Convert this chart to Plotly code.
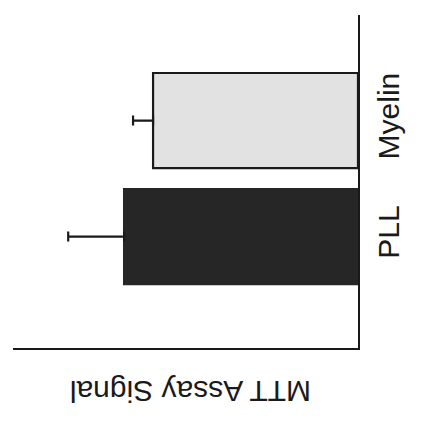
import plotly.graph_objects as go

# MTT assay results per substrate
categories = ["PLL", "Myelin"]
signal = [1.017, 0.891]
signal_err = [0.243, 0.087]
fill_colors = ["#262626", "#e2e2e2"]
outline_colors = ["#262626", "#1a1a1a"]
axis_title = "MTT Assay Signal"

fig = go.Figure()
fig.add_trace(go.Bar(
    y=categories,
    x=signal,
    orientation="h",
    width=0.82,
    marker=dict(color=fill_colors, line=dict(color=outline_colors, width=2.2)),
    error_x=dict(type="data", symmetric=False, array=signal_err,
                 arrayminus=[0, 0], color="#1a1a1a", thickness=2.2, width=5),
    showlegend=False,
))

fig.update_layout(
    width=422, height=429,
    margin=dict(l=13, r=64, t=15, b=81),
    paper_bgcolor="white", plot_bgcolor="white",
    font=dict(family="Liberation Sans, Arial, sans-serif", color="#1a1a1a"),
    xaxis=dict(range=[1.5, 0], showgrid=False, zeroline=False,
               showticklabels=False, ticks="",
               showline=True, linecolor="#1a1a1a", linewidth=2),
    yaxis=dict(type="category", categoryorder="array", categoryarray=categories,
               range=[-0.96, 1.91], side="right", showgrid=False,
               zeroline=False, ticks="", tickangle=-90,
               ticklabelstandoff=3,
               tickfont=dict(size=30, color="#1a1a1a"),
               showline=True, linecolor="#1a1a1a", linewidth=2),
    annotations=[dict(
        text=axis_title, xref="paper", yref="paper",
        x=0.516, y=-0.13, xanchor="center", yanchor="middle",
        textangle=180, showarrow=False,
        font=dict(size=30, color="#1a1a1a"),
    )],
)

fig.write_html("out.html")
